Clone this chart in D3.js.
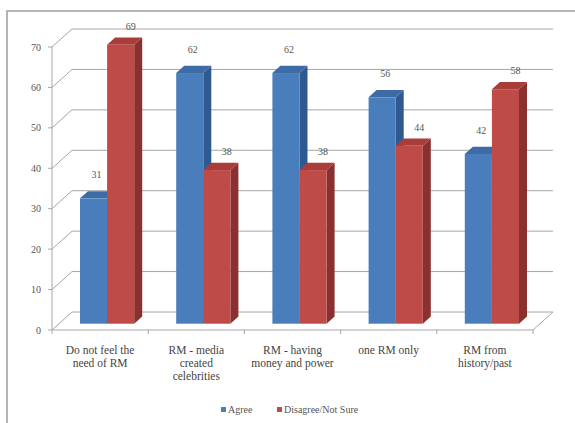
<!DOCTYPE html>
<html>
<head>
<meta charset="utf-8">
<script src="https://cdn.jsdelivr.net/npm/d3@7"></script>
<style>
  html, body { margin: 0; padding: 0; background: #fff; }
  #chart { width: 575px; height: 423px; }
</style>
</head>
<body>
<div id="chart"></div>
<script>
const categories = [
    ["Do not feel the", "need of RM"],
    ["RM - media", "created", "celebrities"],
    ["RM - having", "money and power"],
    ["one RM only"],
    ["RM from", "history/past"]
];
const seriesNames = ["Agree", "Disagree/Not Sure"];
const agree = [31, 62, 62, 56, 42];
const disagree = [69, 38, 38, 44, 58];
const yTicks = [0, 10, 20, 30, 40, 50, 60, 70];

const width = 575, height = 423;

// front floor of the 3d box
const left = 52, right = 533, floorY = 330;
const depthX = 20, depthY = 18;
// bars sit in the middle of the depth
const barD0 = 0.35, barD1 = 0.75;

const svg = d3.select("#chart").append("svg")
    .attr("width", width)
    .attr("height", height);

// outer frame (only top and left visible)
svg.append("path")
    .attr("d", `M7,${height}V11H${width}`)
    .attr("fill", "none")
    .attr("stroke", "#b4b4b4")
    .attr("stroke-width", 2);

const y = d3.scaleLinear().domain([0, 70]).range([0, 283]);
const x0 = d3.scaleBand().domain(d3.range(categories.length)).range([left, right]);
const x1 = d3.scaleBand().domain([0, 1]).range([21, x0.bandwidth() - 21]);

const grid = svg.append("g")
    .attr("fill", "none")
    .attr("stroke", "#a6a6a6")
    .attr("stroke-width", 1);

// gridlines on left wall + back wall
yTicks.forEach(t => {
    const yf = floorY - y(t);
    grid.append("path")
        .attr("d", `M${left},${yf}L${left + depthX},${yf - depthY}H${right + depthX}`);
});

// floor
grid.append("path")
    .attr("d", `M${left},${floorY}H${right}L${right + depthX},${floorY - depthY}`);

// front vertical axis + ticks
grid.append("path")
    .attr("d", `M${left},${floorY}V${floorY - y(70)}`);
yTicks.forEach(t => {
    const yf = floorY - y(t);
    grid.append("path").attr("d", `M${left - 4},${yf}H${left}`);
});
d3.range(categories.length + 1).forEach(i => {
    const xx = left + i * x0.bandwidth();
    grid.append("path").attr("d", `M${xx},${floorY}V${floorY + 4}`);
});

svg.append("g")
    .selectAll("text")
    .data(yTicks)
    .join("text")
    .attr("x", 41)
    .attr("y", d => floorY - y(d) + 3.5)
    .attr("text-anchor", "end")
    .style("font-family", "'Liberation Serif', 'DejaVu Serif', serif")
    .style("font-size", "10px")
    .style("fill", "#555")
    .text(d => d);

const colors = [
    { front: "#4a7dbb", side: "#2f5a8f", top: "#3d6ba6" },
    { front: "#be4b48", side: "#8a302e", top: "#a83d3a" }
];

const rows = [];
categories.forEach((c, i) => {
    [agree[i], disagree[i]].forEach((v, s) => rows.push({ i, s, v }));
});

const ox = barD0 * depthX, oy = barD0 * depthY;
const dx = (barD1 - barD0) * depthX, dy = (barD1 - barD0) * depthY;

const bars = svg.append("g")
    .selectAll("g")
    .data(rows)
    .join("g");

bars.each(function (d) {
    const g = d3.select(this);
    const xa = x0(d.i) + x1(d.s) + ox;
    const xb = xa + x1.bandwidth();
    const base = floorY - oy;
    const top = base - y(d.v);
    const c = colors[d.s];
    g.append("path")
        .attr("d", `M${xb},${top}L${xb + dx},${top - dy}V${base - dy}L${xb},${base}Z`)
        .attr("fill", c.side);
    g.append("path")
        .attr("d", `M${xa},${top}L${xa + dx},${top - dy}H${xb + dx}L${xb},${top}Z`)
        .attr("fill", c.top);
    g.append("rect")
        .attr("x", xa)
        .attr("y", top)
        .attr("width", x1.bandwidth())
        .attr("height", y(d.v))
        .attr("fill", c.front);
});

// value labels
svg.append("g")
    .selectAll("text")
    .data(rows)
    .join("text")
    .attr("x", d => x0(d.i) + x1(d.s) + ox + x1.bandwidth() / 2 + (d.s === 0 ? 3 : 10))
    .attr("y", d => floorY - oy - y(d.v) - (d.s === 0 ? 20 : 15))
    .attr("text-anchor", "middle")
    .style("font-family", "'Liberation Serif', 'DejaVu Serif', serif")
    .style("font-size", "10px")
    .style("fill", "#555")
    .text(d => d.v);

// category labels
svg.append("g")
    .selectAll("text")
    .data(categories)
    .join("text")
    .attr("x", (d, i) => x0(i) + x0.bandwidth() / 2)
    .attr("y", 354)
    .attr("text-anchor", "middle")
    .style("font-family", "'Liberation Serif', 'DejaVu Serif', serif")
    .style("font-size", "11.5px")
    .style("fill", "#444")
    .each(function (d) {
        const t = d3.select(this);
        d.forEach((line, k) => {
            t.append("tspan")
                .attr("x", t.attr("x"))
                .attr("dy", k === 0 ? 0 : 13)
                .text(line);
        });
    });

// legend
const legendX = [221, 277];
const legend = svg.append("g")
    .selectAll("g")
    .data(seriesNames)
    .join("g")
    .attr("transform", (d, i) => `translate(${legendX[i]},410)`);
legend.append("rect")
    .attr("x", 0).attr("y", -3)
    .attr("width", 5).attr("height", 5)
    .attr("fill", (d, i) => colors[i].front);
legend.append("text")
    .attr("x", 7)
    .attr("y", 3)
    .style("font-family", "'Liberation Serif', 'DejaVu Serif', serif")
    .style("font-size", "10px")
    .style("fill", "#555")
    .text(d => d);
</script>
</body>
</html>
